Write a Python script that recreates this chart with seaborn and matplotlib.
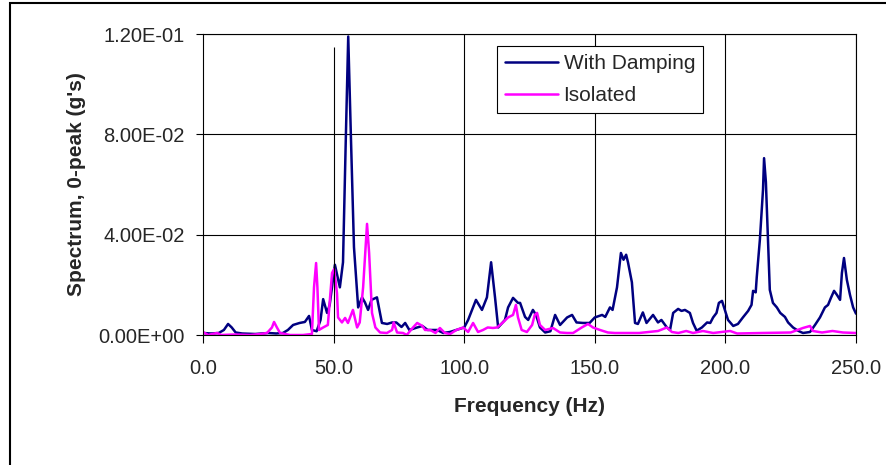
import numpy as np
import pandas as pd
import seaborn as sns
import matplotlib
matplotlib.use("Agg")
from matplotlib import pyplot as plt
from matplotlib.ticker import FuncFormatter

px = 1/100

# values
damped_hz = [0, 3, 6, 8, 9.6, 11, 12.5, 15, 20, 25, 28, 30.6, 32.5, 34.5, 37, 39, 40.6, 41.7, 43.5, 45,
             46, 47.5, 48.5, 50.5, 52.4, 53.6, 54.6, 55.6, 56.6, 57.8, 59.4, 60.9, 62, 63.2, 64.5, 66.6,
             68.5, 70.5, 72.4, 74, 76, 77.4, 79, 82, 84, 86, 89.6, 92, 94.5, 97, 100, 101.5, 103, 104.5,
             106.8, 108.7, 110.3, 111.8, 113, 115.6, 116.8, 118.7, 120.6, 121.4, 123.3, 124.5, 126.3,
             127.5, 129, 131, 133, 134.8, 136.7, 139.4, 141.3, 143, 145.5, 148, 150, 152.8, 154, 155.8,
             156.8, 158.5, 160, 161, 162, 162.7, 164.2, 165.4, 166.5, 168.4, 169.8, 172.3, 174.2, 175.5,
             177.6, 178.8, 180, 181.9, 183.2, 184.5, 186.4, 187.6, 189, 191, 193, 194.2, 195.3, 196.6,
             197.5, 198.7, 199.5, 201, 203, 204.8, 206.7, 208.7, 210, 210.6, 211.6, 212, 213.2, 214.4,
             214.8, 215.5, 216.3, 217, 218.2, 219.7, 221, 222.8, 224, 225.9, 227.8, 229.7, 232.4, 234.3,
             236.2, 238.1, 239.3, 240.4, 241.6, 242.7, 243.9, 244.6, 245.4, 246.5, 247.7, 248.9, 250]
damped_g = [0.0008, 0.0006, 0.0008, 0.002, 0.0044, 0.003, 0.001, 0.0006, 0.0004, 0.0008, 0.0006, 0.0008,
            0.002, 0.004, 0.0048, 0.0052, 0.0076, 0.002, 0.0015, 0.006, 0.0143, 0.0088, 0.012, 0.028,
            0.019, 0.029, 0.075, 0.119, 0.08, 0.035, 0.011, 0.015, 0.013, 0.010, 0.014, 0.015, 0.0048,
            0.0044, 0.005, 0.005, 0.0032, 0.0048, 0.002, 0.003, 0.0036, 0.002, 0.002, 0.0008, 0.0012,
            0.002, 0.003, 0.006, 0.010, 0.014, 0.010, 0.015, 0.029, 0.015, 0.003, 0.006, 0.011, 0.0148,
            0.0128, 0.0128, 0.0072, 0.006, 0.010, 0.008, 0.003, 0.001, 0.0015, 0.008, 0.004, 0.007, 0.008,
            0.005, 0.0048, 0.0048, 0.007, 0.008, 0.0072, 0.011, 0.010, 0.019, 0.0327, 0.030, 0.032, 0.029,
            0.021, 0.0048, 0.0044, 0.009, 0.0048, 0.008, 0.005, 0.006, 0.003, 0.002, 0.0088, 0.0104,
            0.0096, 0.010, 0.0088, 0.0048, 0.0017, 0.003, 0.005, 0.0048, 0.007, 0.0088, 0.0128, 0.0136,
            0.011, 0.006, 0.0036, 0.0044, 0.007, 0.0096, 0.012, 0.0176, 0.017, 0.023, 0.038, 0.058,
            0.0705, 0.061, 0.038, 0.018, 0.0128, 0.011, 0.0088, 0.0072, 0.005, 0.003, 0.0017, 0.0008,
            0.0012, 0.004, 0.007, 0.011, 0.012, 0.0148, 0.0176, 0.016, 0.014, 0.0247, 0.0307, 0.022,
            0.016, 0.011, 0.0085]

isolated_hz = [0, 2, 3.5, 5.4, 7, 12, 18, 22, 24.5, 26.4, 27.2, 28.3, 29.5, 33.3, 38.3, 41.7, 42.5, 43.3,
               43.8, 44.4, 46, 47.8, 49.4, 50.2, 51.3, 51.7, 53.2, 54.4, 55.5, 57.4, 59, 60, 61.3, 62.8,
               63.6, 64.7, 66, 67.8, 70.4, 72.4, 73, 74.3, 76.6, 78, 80.4, 82, 84, 85, 87, 89, 90.7, 92.6,
               94.6, 97, 99.6, 101.5, 103.4, 105.3, 107.2, 109, 111, 112.6, 114.8, 116.8, 118.7, 119.8,
               120.6, 122, 124, 126, 127, 127.9, 129, 131, 134, 136.7, 139.4, 141.7, 145, 147.4, 149.3,
               152, 155, 157.7, 160, 167, 174.2, 177.6, 179.5, 182, 185, 187.6, 191.4, 195.3, 201.8,
               204.5, 214, 225, 229.7, 232.4, 233.5, 237, 241, 245, 250]
isolated_g = [0.0012, 0.0, 0.0004, 0.0008, 0.0, 0.0002, 0.0, 0.0004, 0.0008, 0.003, 0.0052, 0.003, 0.0008,
              0.0, 0.0, 0.0004, 0.019, 0.0287, 0.019, 0.002, 0.003, 0.004, 0.0247, 0.0263, 0.0167, 0.007,
              0.005, 0.0068, 0.0048, 0.010, 0.003, 0.005, 0.019, 0.0443, 0.0327, 0.0088, 0.003, 0.001,
              0.0008, 0.002, 0.005, 0.001, 0.0008, 0.0, 0.003, 0.0048, 0.0036, 0.002, 0.002, 0.0008,
              0.0028, 0.0008, 0.0004, 0.002, 0.003, 0.0012, 0.0048, 0.0012, 0.002, 0.003, 0.0028, 0.003,
              0.005, 0.007, 0.008, 0.012, 0.007, 0.002, 0.0012, 0.004, 0.008, 0.0088, 0.004, 0.002, 0.0028,
              0.001, 0.0008, 0.0008, 0.003, 0.0044, 0.003, 0.002, 0.001, 0.0008, 0.0008, 0.0008, 0.0016,
              0.003, 0.0012, 0.0008, 0.0016, 0.0008, 0.0016, 0.0008, 0.0016, 0.0006, 0.0008, 0.0010,
              0.0028, 0.0036, 0.0016, 0.0010, 0.0016, 0.0010, 0.0008]

series_names = ["With Damping", "Isolated"]
series_colors = ["#000080", "#FF00FF"]
x_ticks = [0, 50, 100, 150, 200, 250]
y_ticks = [0, 0.04, 0.08, 0.12]
marker_hz = 50
marker_top = 0.115

df = pd.concat([
    pd.DataFrame({"Frequency": damped_hz, "Spectrum": damped_g, "Series": series_names[0]}),
    pd.DataFrame({"Frequency": isolated_hz, "Spectrum": isolated_g, "Series": series_names[1]}),
])

sns.set_style("white")
plt.rcParams['font.family'] = ['Liberation Sans', 'DejaVu Sans']

fig = plt.figure(figsize=(886*px, 465*px), dpi=100)
ax = fig.add_axes([203/886, 1 - 335/465, 653/886, 301/465])

sns.lineplot(data=df, x="Frequency", y="Spectrum", hue="Series", hue_order=series_names,
             palette=dict(zip(series_names, series_colors)), estimator=None, linewidth=1.8, ax=ax)

ax.set_xlim(0, 250)
ax.set_ylim(0, 0.12)
ax.set_xticks(x_ticks)
ax.set_yticks(y_ticks)
ax.xaxis.set_major_formatter(FuncFormatter(lambda v, p: f"{v:.1f}"))
ax.yaxis.set_major_formatter(FuncFormatter(lambda v, p: f"{v:.2E}"))
ax.tick_params(axis='x', direction='out', length=6, width=0.8, color='black', pad=11, labelsize=14.5)
ax.tick_params(axis='y', direction='out', length=5, width=0.8, color='black', pad=8, labelsize=14.5)
ax.tick_params(bottom=True, left=True)

ax.grid(True, axis='both', color='black', linewidth=0.8)
for i, gl in enumerate(ax.xaxis.get_gridlines()):
    if x_ticks[i] in (0, 50):
        gl.set_visible(False)
ax.vlines(marker_hz, 0, marker_top, color='black', linewidth=0.8)

for s in ax.spines.values():
    s.set_color('black')
    s.set_linewidth(0.8)

ax.set_xlabel("Frequency (Hz)", fontsize=15, fontweight='bold', labelpad=14)
ax.set_ylabel("Spectrum, 0-peak (g's)", fontsize=15, fontweight='bold', labelpad=9)

leg = ax.legend(loc='upper left', bbox_to_anchor=(0.450, 0.960), borderaxespad=0, fontsize=15,
                frameon=True, fancybox=False, framealpha=1, edgecolor='black',
                handlelength=2.55, handletextpad=0.25, borderpad=0.4, labelspacing=0.6)
leg.get_frame().set_linewidth(0.8)
for ln in leg.get_lines():
    ln.set_linewidth(1.8)

fig.add_artist(plt.Rectangle((10/886, -0.5), 2, 0.5 + 1 - 3/465, fill=False, edgecolor='black',
                             linewidth=1.5, transform=fig.transFigure, clip_on=False))

plt.savefig('out.png', dpi=100)
